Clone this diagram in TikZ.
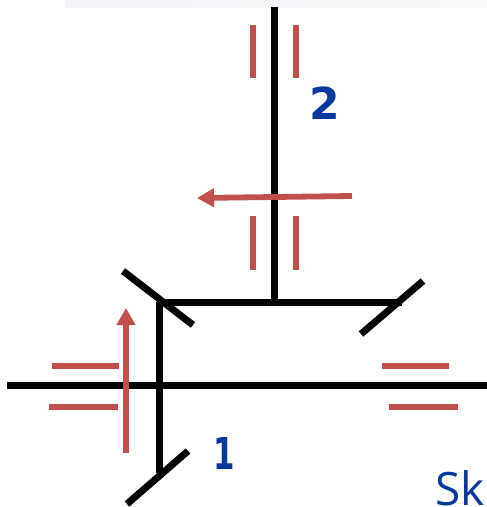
\documentclass[tikz,border=0pt]{standalone}
\usepackage{fontspec}
\setmainfont{Open Sans}
\newfontfamily\digitfont{DejaVu Sans}
\usetikzlibrary{arrows.meta}
\definecolor{beamred}{HTML}{C0504D}
\definecolor{labelblue}{HTML}{06389E}
\definecolor{bandleft}{HTML}{F3F4F8}
\definecolor{bandright}{HTML}{F9F9FB}
\tikzset{
  optic/.style={black,line width=7pt},
  tick/.style={beamred,line width=6.3pt},
  kvec/.style={beamred,line width=5.8pt,-{Triangle[length=17pt,width=18pt]}},
  numlabel/.style={labelblue,inner sep=0pt,font=\digitfont\bfseries\fontsize{44}{44}\selectfont},
  sklabel/.style={labelblue,inner sep=0pt,anchor=base west,font=\fontsize{46}{46}\selectfont}
}
\begin{document}
\begin{tikzpicture}[x=1pt,y=-1pt]
\useasboundingbox (0,0) rectangle (487,507);
\shade[left color=bandleft,right color=bandright] (65,0) rectangle (487,7);
% beams
\draw[optic] (274,7) -- (274,301);
\draw[optic] (166,302) -- (402,302);
\draw[optic] (159,302) -- (159,473);
\draw[optic] (7,385.5) -- (487,385.5);
% mirrors
\draw[optic] (123,271) -- (193,325);
\draw[optic] (127,504) -- (188,451);
\draw[optic] (361,334) -- (423,281);
% wavefront ticks
\draw[tick] (253,25) -- (253,78);
\draw[tick] (296,25) -- (296,78);
\draw[tick] (253,216) -- (253,270);
\draw[tick] (296,216) -- (296,270);
\draw[tick] (52,366) -- (119,366);
\draw[tick] (49,407) -- (118,407);
\draw[tick] (382,366) -- (449,366);
\draw[tick] (389,407) -- (458,407);
% arrows
\draw[kvec] (126,453) -- (126,308);
\draw[kvec] (352,196) -- (197,198);
% labels
\node[numlabel,xscale=.7] (one) at (224.5,453) {1};
\node[numlabel] (two) at (325,103.5) {2};
\node[sklabel] (sk) at (435,505) {Sk};
\end{tikzpicture}
\end{document}
